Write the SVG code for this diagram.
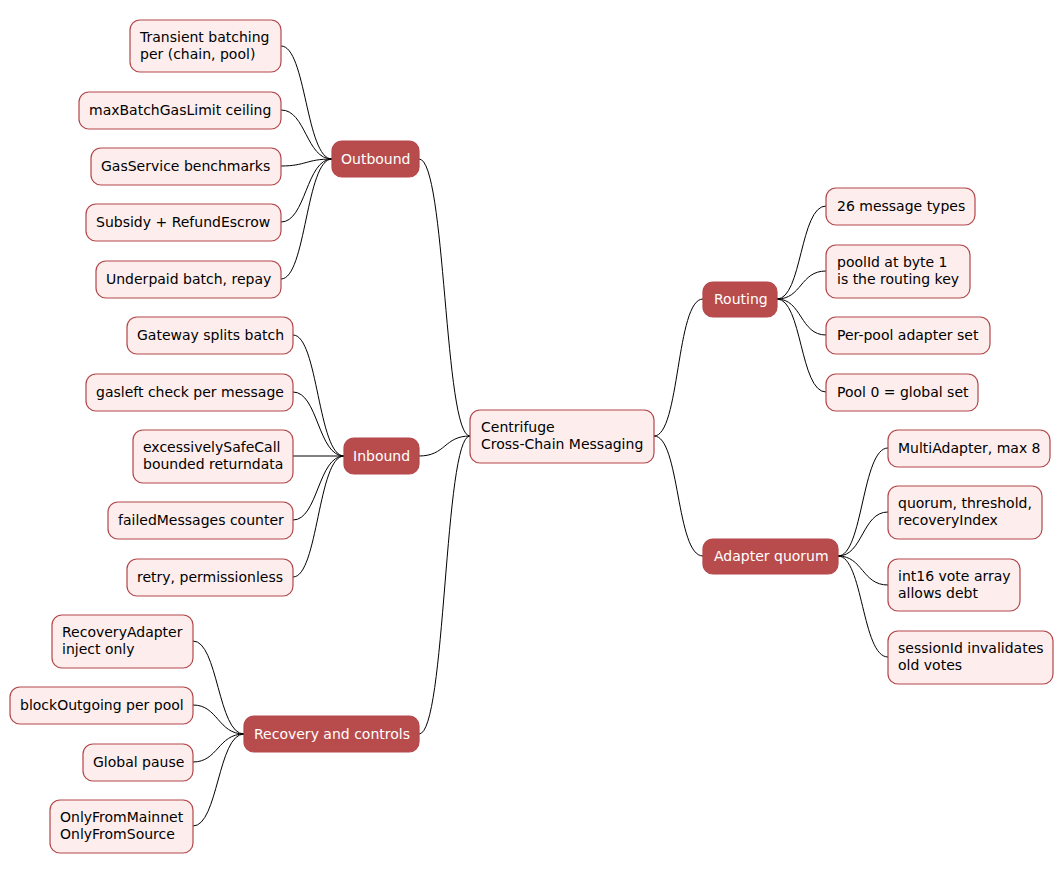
<svg xmlns="http://www.w3.org/2000/svg" width="1064" height="874" viewBox="0 0 1064 874">
<style>
.l{fill:#fdeeed;stroke:#b3474a;stroke-width:1.2}
.d{fill:#b84c4c;stroke:#b3474a;stroke-width:1.2}
text{font-family:"DejaVu Sans",sans-serif;font-size:14px;fill:#000}
.w{fill:#fff}
.c path{fill:none;stroke:#000;stroke-width:1}
</style>
<rect width="1064" height="874" fill="#fff"/>
<g class="c">
<path d="M654,436 C680,436 676,299 703,299"/>
<path d="M654,436 C680,436 676,556 703,556"/>
<path d="M470,436 C444,436 446,159 419,159"/>
<path d="M470,436 C444,436 446,456 419,456"/>
<path d="M470,436 C444,436 446,734 419,734"/>
<path d="M777,299 C802,299 800,206 826,206"/>
<path d="M777,299 C802,299 800,271 826,271"/>
<path d="M777,299 C802,299 800,335 826,335"/>
<path d="M777,299 C802,299 800,392 826,392"/>
<path d="M838,556 C863,556 862,448 888,448"/>
<path d="M838,556 C863,556 862,512 888,512"/>
<path d="M838,556 C863,556 862,585 888,585"/>
<path d="M838,556 C863,556 862,657 888,657"/>
<path d="M281,46 C306,46 306,159 332,159"/>
<path d="M281,110 C306,110 306,159 332,159"/>
<path d="M281,166 C306,166 306,159 332,159"/>
<path d="M281,222 C306,222 306,159 332,159"/>
<path d="M281,279 C306,279 306,159 332,159"/>
<path d="M293,335 C318,335 318,456 344,456"/>
<path d="M293,392 C318,392 318,456 344,456"/>
<path d="M293,456 L344,456"/>
<path d="M293,520 C318,520 318,456 344,456"/>
<path d="M293,577 C318,577 318,456 344,456"/>
<path d="M193,641 C218,641 218,734 244,734"/>
<path d="M193,705 C218,705 218,734 244,734"/>
<path d="M193,762 C218,762 218,734 244,734"/>
<path d="M193,826 C218,826 218,734 244,734"/>
</g>
<g id="root"><rect class="l" x="470" y="410" width="184" height="53" rx="10"/><text x="481" y="432">Centrifuge</text><text x="481" y="449">Cross-Chain Messaging</text></g>
<g id="routing"><rect class="d" x="703" y="282" width="74" height="35" rx="10"/><text class="w" x="714" y="304">Routing</text></g>
<g id="quorum"><rect class="d" x="703" y="539" width="135" height="35" rx="10"/><text class="w" x="714" y="561">Adapter quorum</text></g>
<g id="outbound"><rect class="d" x="332" y="141" width="87" height="36" rx="10"/><text class="w" x="341" y="164">Outbound</text></g>
<g id="inbound"><rect class="d" x="344" y="438" width="75" height="36" rx="10"/><text class="w" x="353" y="461">Inbound</text></g>
<g id="recovery"><rect class="d" x="244" y="716" width="175" height="36" rx="10"/><text class="w" x="254" y="739">Recovery and controls</text></g>
<g id="r1"><rect class="l" x="826" y="188" width="149" height="37" rx="10"/><text x="837" y="211">26 message types</text></g>
<g id="r2"><rect class="l" x="826" y="245" width="144" height="53" rx="10"/><text x="837" y="267">poolId at byte 1</text><text x="837" y="284">is the routing key</text></g>
<g id="r3"><rect class="l" x="826" y="317" width="164" height="37" rx="10"/><text x="837" y="340">Per-pool adapter set</text></g>
<g id="r4"><rect class="l" x="826" y="374" width="152" height="37" rx="10"/><text x="837" y="397">Pool 0 = global set</text></g>
<g id="q1"><rect class="l" x="888" y="430" width="162" height="37" rx="10"/><text x="898" y="453">MultiAdapter, max 8</text></g>
<g id="q2"><rect class="l" x="888" y="486" width="154" height="53" rx="10"/><text x="898" y="508">quorum, threshold,</text><text x="898" y="525">recoveryIndex</text></g>
<g id="q3"><rect class="l" x="888" y="559" width="132" height="52" rx="10"/><text x="898" y="581">int16 vote array</text><text x="898" y="598">allows debt</text></g>
<g id="q4"><rect class="l" x="888" y="631" width="165" height="53" rx="10"/><text x="898" y="653">sessionId invalidates</text><text x="898" y="670">old votes</text></g>
<g id="o1"><rect class="l" x="130" y="20" width="151" height="52" rx="10"/><text x="140" y="42">Transient batching</text><text x="140" y="59">per (chain, pool)</text></g>
<g id="o2"><rect class="l" x="79" y="92" width="202" height="37" rx="10"/><text x="89" y="115">maxBatchGasLimit ceiling</text></g>
<g id="o3"><rect class="l" x="91" y="148" width="190" height="37" rx="10"/><text x="101" y="171">GasService benchmarks</text></g>
<g id="o4"><rect class="l" x="86" y="204" width="195" height="37" rx="10"/><text x="96" y="227">Subsidy + RefundEscrow</text></g>
<g id="o5"><rect class="l" x="96" y="261" width="185" height="37" rx="10"/><text x="106" y="284">Underpaid batch, repay</text></g>
<g id="i1"><rect class="l" x="127" y="317" width="166" height="37" rx="10"/><text x="137" y="340">Gateway splits batch</text></g>
<g id="i2"><rect class="l" x="86" y="374" width="207" height="37" rx="10"/><text x="96" y="397">gasleft check per message</text></g>
<g id="i3"><rect class="l" x="133" y="430" width="160" height="53" rx="10"/><text x="143" y="452">excessivelySafeCall</text><text x="143" y="469">bounded returndata</text></g>
<g id="i4"><rect class="l" x="108" y="502" width="185" height="37" rx="10"/><text x="118" y="525">failedMessages counter</text></g>
<g id="i5"><rect class="l" x="127" y="559" width="166" height="37" rx="10"/><text x="137" y="582">retry, permissionless</text></g>
<g id="v1"><rect class="l" x="52" y="615" width="141" height="53" rx="10"/><text x="62" y="637">RecoveryAdapter</text><text x="62" y="654">inject only</text></g>
<g id="v2"><rect class="l" x="10" y="687" width="183" height="37" rx="10"/><text x="20" y="710">blockOutgoing per pool</text></g>
<g id="v3"><rect class="l" x="83" y="744" width="110" height="37" rx="10"/><text x="93" y="767">Global pause</text></g>
<g id="v4"><rect class="l" x="50" y="800" width="143" height="53" rx="10"/><text x="60" y="822">OnlyFromMainnet</text><text x="60" y="839">OnlyFromSource</text></g>
</svg>
